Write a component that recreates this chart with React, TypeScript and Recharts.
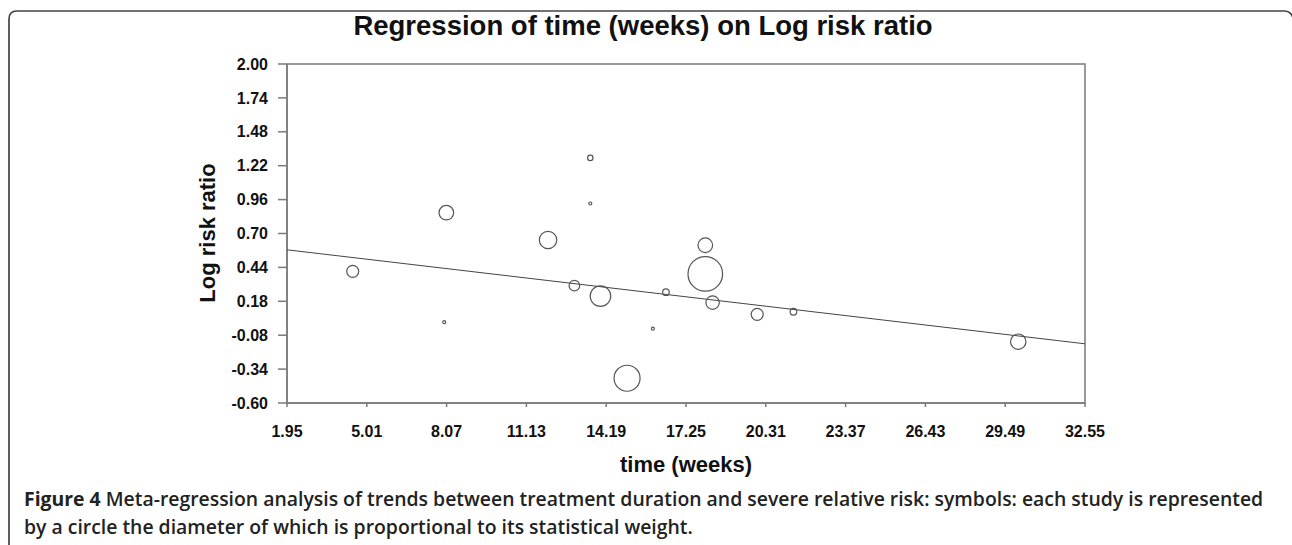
import { ScatterChart, Scatter, XAxis, YAxis, ReferenceArea } from 'recharts'

// study durations (weeks), log risk ratios and weights (circle diameter)
const studyTime = [4.47, 7.98, 8.06, 11.96, 12.97, 13.58, 13.58, 13.97, 14.99, 15.98, 16.48, 17.99, 17.99, 18.27, 19.98, 21.37, 29.99]
const logRR = [0.41, 0.02, 0.86, 0.65, 0.3, 1.28, 0.93, 0.22, -0.41, -0.03, 0.25, 0.61, 0.39, 0.17, 0.08, 0.1, -0.13]
const weight = [12, 3, 14.6, 17.4, 10.6, 5.4, 3, 20.6, 26, 3, 6.6, 14.6, 34.6, 13.4, 12, 6.6, 15.4]

// fitted regression line end points
const regTime = [1.95, 32.55]
const regLogRR = [0.575, -0.146]

const xTicks = [1.95, 5.01, 8.07, 11.13, 14.19, 17.25, 20.31, 23.37, 26.43, 29.49, 32.55]
const yTicks = [-0.6, -0.34, -0.08, 0.18, 0.44, 0.7, 0.96, 1.22, 1.48, 1.74, 2.0]

const studies = studyTime.map((t, i) => ({ x: t, y: logRR[i], w: weight[i] }))
const regression = regTime.map((t, i) => ({ x: t, y: regLogRR[i] }))

const axisFont = '"Liberation Sans", Arial, sans-serif'
const captionFont = '"Open Sans", sans-serif'
const tickStyle = { fontSize: 16, fontWeight: 700, fill: '#111', fontFamily: axisFont }

function Bubble(props: any) {
  const { cx, cy, payload } = props
  return (
    <circle cx={cx} cy={cy} r={payload.w / 2} fill="none" stroke="#555" strokeWidth={1.2} />
  )
}

export default function App() {
  return (
    <div
      style={{
        position: 'absolute',
        left: 0,
        top: 0,
        width: 1292,
        height: 545,
        background: '#fff',
        overflow: 'hidden',
      }}
    >
      <ScatterChart
        width={1292}
        height={545}
        margin={{ top: 64, right: 207, bottom: 82, left: 180 }}
      >
        <ReferenceArea
          x1={1.95}
          x2={32.55}
          y1={-0.6}
          y2={2}
          fill="none"
          stroke="#7a7a7a"
          strokeWidth={1.5}
        />
        <XAxis
          type="number"
          dataKey="x"
          domain={[1.95, 32.55]}
          ticks={xTicks}
          tickFormatter={(v: number) => v.toFixed(2)}
          interval={0}
          height={60}
          tickSize={4}
          tickMargin={19}
          tick={tickStyle}
          axisLine={{ stroke: '#7a7a7a', strokeWidth: 1.5 }}
          tickLine={{ stroke: '#7a7a7a', strokeWidth: 1.5 }}
          allowDataOverflow
        />
        <YAxis
          type="number"
          dataKey="y"
          domain={[-0.6, 2]}
          ticks={yTicks}
          tickFormatter={(v: number) => v.toFixed(2)}
          interval={0}
          width={107}
          tickSize={9}
          tickMargin={10}
          tick={tickStyle}
          axisLine={{ stroke: '#7a7a7a', strokeWidth: 1.5 }}
          tickLine={{ stroke: '#7a7a7a', strokeWidth: 1.5 }}
          allowDataOverflow
        />
        <Scatter
          data={regression}
          line={{ stroke: '#444', strokeWidth: 1 }}
          shape={() => <g />}
          isAnimationActive={false}
        />
        <Scatter data={studies} shape={Bubble} isAnimationActive={false} />
      </ScatterChart>

      <svg
        width={1292}
        height={545}
        style={{ position: 'absolute', left: 0, top: 0, pointerEvents: 'none' }}
      >
        <path
          d="M9,560 L9,19 Q9,11 17,11 L1284,11 Q1291,11 1293,18 L1293,560"
          fill="none"
          stroke="#444"
          strokeWidth={1.7}
        />
        <text
          x={643}
          y={35}
          textAnchor="middle"
          fontFamily={axisFont}
          fontWeight={700}
          fontSize={27.5}
          fill="#111"
        >
          Regression of time (weeks) on Log risk ratio
        </text>
        <text
          x={215}
          y={233}
          transform="rotate(-90, 215, 233)"
          textAnchor="middle"
          fontFamily={axisFont}
          fontWeight={700}
          fontSize={22}
          fill="#111"
        >
          Log risk ratio
        </text>
        <text
          x={686}
          y={472}
          textAnchor="middle"
          fontFamily={axisFont}
          fontWeight={700}
          fontSize={22}
          fill="#111"
        >
          time (weeks)
        </text>
        <text x={24} y={506} fontFamily={captionFont} fontSize={19.4} fontWeight={600} fill="#222">
          <tspan fontWeight={700}>Figure 4</tspan> Meta-regression analysis of trends between treatment duration and
          severe relative risk: symbols: each study is represented
        </text>
        <text x={24} y={534} fontFamily={captionFont} fontSize={19.4} fontWeight={600} fill="#222">
          by a circle the diameter of which is proportional to its statistical weight.
        </text>
      </svg>
    </div>
  )
}
